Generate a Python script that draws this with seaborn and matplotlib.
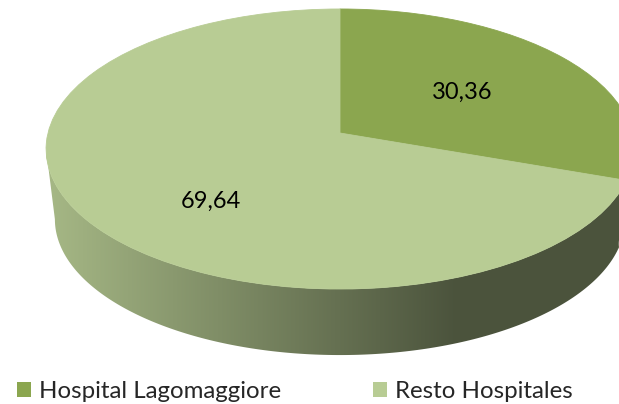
import numpy as np
import matplotlib
matplotlib.use("Agg")
import matplotlib.pyplot as plt
import seaborn as sns
from matplotlib.transforms import Transform
from matplotlib.patches import Polygon, Patch

# ---------------- data ----------------
categories = ["Hospital Lagomaggiore", "Resto Hospitales"]
values = [30.36, 69.64]

# ---------------- style ----------------
slice_colors = ["#8BA64F", "#B8CC94"]
label_radius = [0.498, 0.660]      # radial position of value labels (unit pie)
label_angle_shift = [-5.1, 15.6]   # degrees from slice mid-angle
LABEL_FS = 17.0
LEG_FS = 17.3
W, H = 619, 404
CX, CY, A, B, K = 340.0, 133.0, 292.0, 138.2, 0.1143   # top face projection
S_BOT, CY_BOT = 0.97, 203.7                            # bottom face projection

sns.set_theme(style="white")
plt.rcParams["font.family"] = ["Lato", "DejaVu Sans"]


class Persp(Transform):
    """Perspective projection of the unit pie disc onto the page."""
    input_dims = 2
    output_dims = 2
    is_separable = False
    has_inverse = False

    def __init__(self, cy, scale):
        super().__init__()
        self.cy = cy
        self.scale = scale

    def transform_non_affine(self, values):
        v = np.atleast_2d(np.asarray(values, dtype=float))
        w = 1.0 + K * v[:, 1]
        return np.column_stack([CX + self.scale * A * v[:, 0] / w,
                                self.cy - self.scale * B * v[:, 1] / w])


fig = plt.figure(figsize=(W / 100, H / 100), dpi=100)
ax = fig.add_axes([0, 0, 1, 1])

top_tr = Persp(CY, 1.0)
bot_tr = Persp(CY_BOT, S_BOT)

wedges, _ = ax.pie(values, colors=slice_colors, startangle=90, counterclock=False,
                   radius=1.0, center=(0, 0),
                   wedgeprops=dict(linewidth=0.6))
for wdg, col in zip(wedges, slice_colors):
    wdg.set_transform(top_tr + ax.transData)
    wdg.set_edgecolor(col)
    wdg.set_zorder(5)

# ---------- side (visible front part) ----------
t_left = 180.0 + np.degrees(np.arcsin(K))
t_right = 360.0 - np.degrees(np.arcsin(K))
for wdg, col in zip(wedges, slice_colors):
    a1, a2 = wdg.theta1, wdg.theta2
    for shift in (-360.0, 0.0, 360.0):
        lo = max(a1 + shift, t_left)
        hi = min(a2 + shift, t_right)
        if hi <= lo:
            continue
        t = np.radians(np.linspace(lo, hi, 200))
        unit = np.column_stack([np.cos(t), np.sin(t)])
        top_pts = top_tr.transform(unit)
        bot_pts = bot_tr.transform(unit)
        pts = np.vstack([top_pts, bot_pts[::-1]])
        poly = Polygon(pts, closed=True, facecolor="none", edgecolor="none",
                       transform=ax.transData)
        ax.add_patch(poly)
        xs = np.linspace(30, 640, 610)
        f = np.interp(xs, [48, 455], [0.90, 0.41])
        base = np.array(matplotlib.colors.to_rgb(col))
        img = np.clip(f[None, :, None] * base[None, None, :], 0, 1)
        im = ax.imshow(img, extent=(30, 640, 380, 100), aspect="auto",
                       interpolation="bilinear", zorder=2)
        im.set_clip_path(poly)

# ---------- value labels ----------
for wdg, val, r, sh in zip(wedges, values, label_radius, label_angle_shift):
    mid = np.radians((wdg.theta1 + wdg.theta2) / 2 + sh)
    ax.text(r * np.cos(mid), r * np.sin(mid), f"{val:.2f}".replace(".", ","),
            transform=top_tr + ax.transData, ha="center", va="baseline",
            fontsize=LABEL_FS, color="#000000", zorder=10)

ax.set_xlim(0, W)
ax.set_ylim(H, 0)
ax.set_aspect("auto")
ax.axis("off")

# ---------- legend ----------
fs_px = LEG_FS * 100 / 72
renderer = fig.canvas.get_renderer()
tmp = fig.text(0, 0, categories[0], fontsize=LEG_FS)
w_first = tmp.get_window_extent(renderer).width
tmp.remove()
hl = 14 / fs_px
pad = 7.6 / fs_px
first_text_end = 17.3 + 14 + 7.6 + w_first
colspace = max((373 - first_text_end) / fs_px, 0.5)

handles = [Patch(facecolor=c, edgecolor="none") for c in slice_colors]
fig.legend(handles=handles, labels=categories, ncol=2, loc="lower left",
           bbox_to_anchor=(17.3 / W, 2.5 / H), frameon=False, fontsize=LEG_FS,
           handlelength=hl, handleheight=hl, handletextpad=pad,
           columnspacing=colspace, borderpad=0, borderaxespad=0)

fig.savefig("out.png", dpi=100)
